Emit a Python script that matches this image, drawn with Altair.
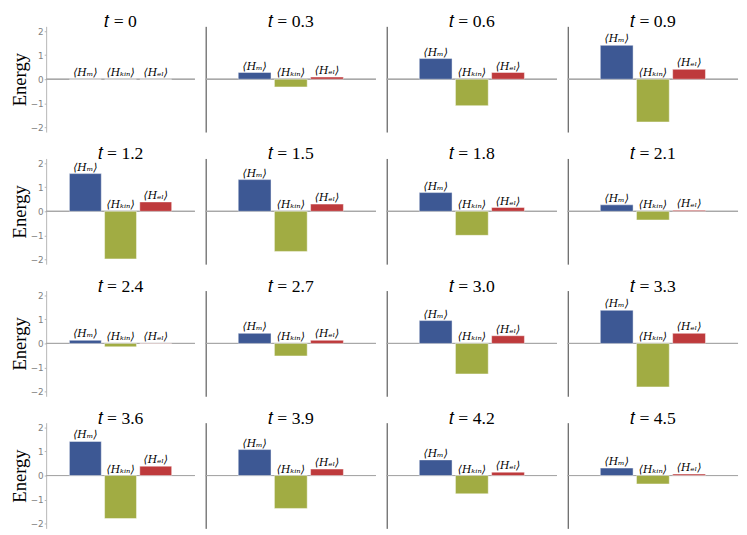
import altair as alt
import pandas as pd

times = ["0", "0.3", "0.6", "0.9", "1.2", "1.5", "1.8", "2.1",
         "2.4", "2.7", "3.0", "3.3", "3.6", "3.9", "4.2", "4.5"]
h_m = [0.0, 0.28, 0.86, 1.41, 1.57, 1.32, 0.78, 0.27,
       0.13, 0.42, 0.95, 1.38, 1.42, 1.08, 0.65, 0.31]
h_kin = [0.0, -0.32, -1.10, -1.78, -1.98, -1.67, -1.00, -0.36,
         -0.14, -0.52, -1.27, -1.81, -1.79, -1.37, -0.76, -0.35]
h_el = [0.0, 0.09, 0.28, 0.41, 0.39, 0.30, 0.16, 0.04,
        0.01, 0.13, 0.32, 0.42, 0.39, 0.27, 0.14, 0.06]
terms = ["⟨Hₘ⟩", "⟨Hₖᵢₙ⟩", "⟨Hₑₗ⟩"]
colors = ["#3D5894", "#A1AC43", "#BE3A3C"]
y_ticks = [-2, -1, 0, 1, 2]

rows = []
for i, t in enumerate(times):
    for term, v in zip(terms, (h_m[i], h_kin[i], h_el[i])):
        rows.append({"t": t, "term": term, "value": v, "top": max(v, 0.0)})
df = pd.DataFrame(rows)

H = 108
W_FIRST = 152
W = 174


def panel(idx, col):
    t = times[idx]
    base = alt.Chart(df).transform_filter(alt.datum.t == t)
    if col == 0:
        axis = alt.Axis(values=y_ticks, title="Energy", grid=False,
                        domainColor="#b4b4b4", tickColor="#b4b4b4", tickSize=2,
                        labelColor="#808080", labelFont="DejaVu Sans", labelFontSize=9,
                        labelPadding=1, titleFont="Liberation Serif", titleFontSize=19,
                        titleFontWeight="normal", titleColor="#000000", titlePadding=1)
    else:
        axis = alt.Axis(title=None, labels=False, ticks=False, grid=False,
                        domainColor="#3a3a3a", domainWidth=1)
    yscale = alt.Scale(domain=[-2.2, 2.2], nice=False, zero=False)
    x = alt.X("term:N", sort=terms, axis=None,
              scale=alt.Scale(paddingInner=0.094, paddingOuter=0.66 if col == 0 else 0.9))
    rule = base.mark_rule(color="#a8a8a8", strokeWidth=1).encode(
        y=alt.Y("z:Q", scale=yscale, axis=axis)
    ).transform_calculate(z="0")
    bars = base.mark_bar(stroke="#ffffff", strokeOpacity=0.45, strokeWidth=1).encode(
        x=x,
        y=alt.Y("value:Q", scale=yscale, axis=axis),
        color=alt.Color("term:N", scale=alt.Scale(domain=terms, range=colors), legend=None),
    )
    text = base.mark_text(baseline="bottom", dy=-1, font="DejaVu Serif",
                          fontSize=11, fontStyle="italic", color="#000000").encode(
        x=x,
        y=alt.Y("top:Q", scale=yscale, axis=axis),
        text="term:N",
    )
    return alt.layer(rule, bars, text).properties(
        width=W_FIRST if col == 0 else W,
        height=H,
        title=alt.TitleParams(f"𝑡 = {t}", font="Liberation Serif", fontSize=18,
                              fontWeight="normal", color="#000000", offset=-5),
    )


grid = alt.vconcat(
    *[alt.hconcat(*[panel(r * 4 + c, c) for c in range(4)], spacing=9) for r in range(4)],
    spacing=13,
).properties(padding={"left": 2, "top": 0, "right": 0, "bottom": 0}).configure_view(stroke=None)

grid.save("out.html", embed_options={"renderer": "svg", "actions": False})
